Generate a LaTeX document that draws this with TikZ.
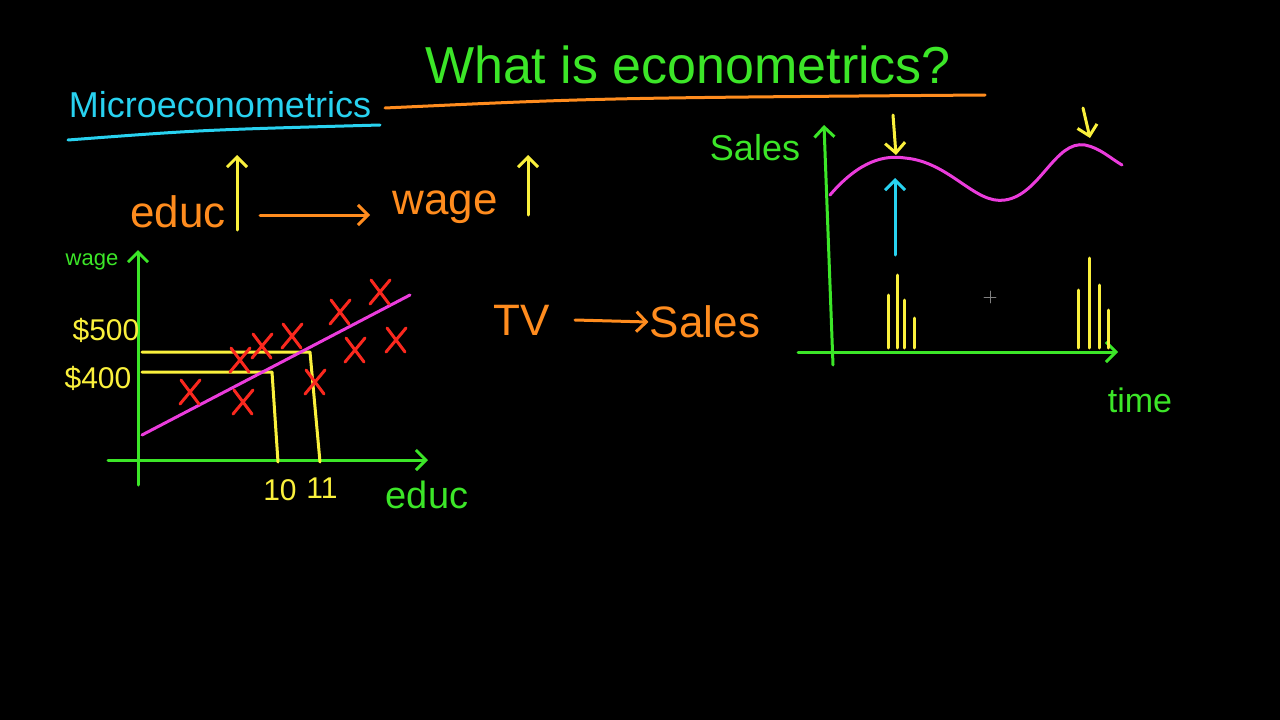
\documentclass[tikz,border=0pt]{standalone}
\usetikzlibrary{arrows.meta}
\usepackage{fontspec}
\setmainfont{Liberation Sans}
\definecolor{penG}{RGB}{60,230,40}
\definecolor{penO}{RGB}{255,140,30}
\definecolor{penY}{RGB}{250,240,60}
\definecolor{penC}{RGB}{40,210,240}
\definecolor{penM}{RGB}{235,60,220}
\definecolor{penR}{RGB}{250,40,30}
\begin{document}
\begin{tikzpicture}[x=1pt,y=-1pt,line width=3pt,line cap=round,line join=round,
  pen/.style={line width=3pt},
  arr/.style={pen,-{Straight Barb[length=10pt,width=20pt]}},
  txt/.style={inner sep=0pt,font=\fontsize{44}{44}\selectfont},
  stxt/.style={inner sep=0pt,font=\fontsize{30}{30}\selectfont}]
\fill[black] (0,0) rectangle (1280,720);
\useasboundingbox (0,0) rectangle (1280,720);
% title
\node[txt,text=penG,font=\fontsize{52}{52}\selectfont] (title) at (688,65) {What is econometrics?};
\draw[pen,penO] (385,108) .. controls (600,98) .. (985,95);
\node[stxt,text=penC,font=\fontsize{36}{36}\selectfont] (micro) at (220,105) {Microeconometrics};
\draw[pen,penC] (68,140) .. controls (200,130) .. (380,125);
% educ -> wage
\node[txt,text=penO] (educ) at (178,212) {educ};
\node[txt,text=penO] (wage) at (445,207) {wage};
\draw[arr,penO] (260,215) coordinate (e1) -- (370,215) coordinate (e2);
\coordinate (ua1) at (237,230); \coordinate (ua2) at (237,155);
\draw[arr,penY] (ua1) -- (ua2);
\coordinate (ub1) at (528,215); \coordinate (ub2) at (528,155);
\draw[arr,penY] (ub1) -- (ub2);
% left graph
\coordinate (ly0) at (138,485); \coordinate (ly1) at (138,250);
\coordinate (lx0) at (108,460); \coordinate (lx1) at (428,460);
\draw[arr,penG] (ly0) -- (ly1);
\draw[arr,penG] (lx0) -- (lx1);
\node[stxt,text=penG,font=\fontsize{22}{22}\selectfont] (lw) at (92,262) {wage};
\node[stxt,text=penY] (p5) at (106,330) {\$500};
\node[stxt,text=penY] (p4) at (98,378) {\$400};
\node[stxt,text=penY] (t10) at (280,490) {10};
\node[stxt,text=penY] (t11) at (322,488) {11};
\node[txt,text=penG,font=\fontsize{38}{38}\selectfont] (leduc) at (427,495) {educ};
\draw[pen,penY] (142,352) -- (310,352) -- (320,462);
\draw[pen,penY] (142,372) -- (272,372) -- (278,462);
\draw[pen,penM] (142,435) -- (410,295);
\foreach \x/\y in {190/392, 243/402, 262/346, 292/336, 315/382, 340/312, 355/350, 380/292, 396/340, 240/360}{
  \draw[pen,penR] (\x-9,\y-12) -- (\x+9,\y+12) (\x+10,\y-12) -- (\x-10,\y+12);}
% TV -> Sales
\node[txt,text=penO] (tv) at (522,320) {TV};
\node[txt,text=penO] (sales) at (705,322) {Sales};
\draw[arr,penO] (575,320) -- (sales.west);
% right graph
\coordinate (ry0) at (833,365); \coordinate (ry1) at (824,125);
\coordinate (rx0) at (798,352); \coordinate (rx1) at (1118,352);
\draw[arr,penG] (ry0) -- (ry1);
\draw[arr,penG] (rx0) -- (rx1);
\node[stxt,text=penG,font=\fontsize{36}{36}\selectfont] (rs) at (755,148) {Sales};
\node[stxt,text=penG,font=\fontsize{34}{34}\selectfont] (rt) at (1140,400) {time};
\draw[pen,penM] (830,195) .. controls (860,160) and (885,155) .. (905,158)
  .. controls (950,162) and (975,205) .. (1005,200)
  .. controls (1040,195) and (1055,140) .. (1085,145)
  .. controls (1100,148) and (1110,158) .. (1122,165);
\draw[arr,penY] (893,115) -- (896,155);
\draw[arr,penY] (1083,108) -- (1090,138);
\draw[arr,penC] (895,255) -- (895,178);
\foreach \x/\h in {888/295, 897/275, 904/300, 914/318, 1078/290, 1089/258, 1099/285, 1108/310}{
  \draw[pen,penY] (\x,348) -- (\x,\h);}
\draw[line width=0.8pt,gray] (984,297) -- (996,297) (990,291) -- (990,303);
\end{tikzpicture}
\end{document}
